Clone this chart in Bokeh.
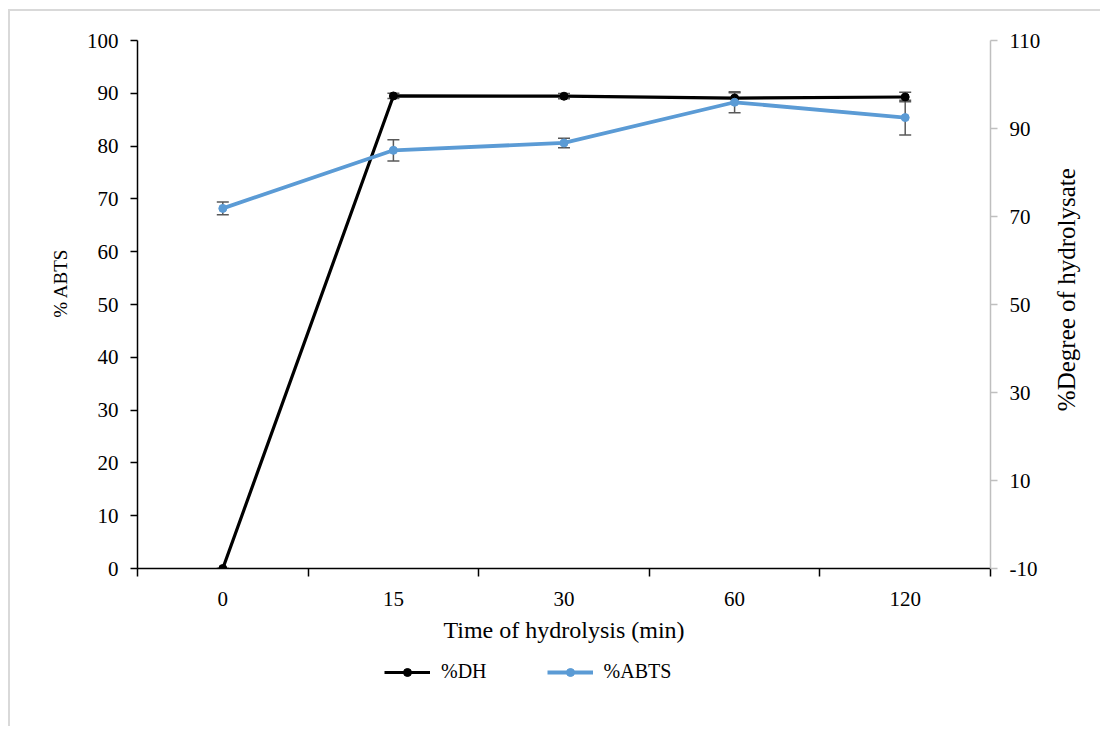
import math
from bokeh.plotting import figure
from bokeh.layouts import column, row
from bokeh.models import (Range1d, LinearAxis, FixedTicker, ColumnDataSource, Whisker,
                          TeeHead, Legend, LegendItem)
from bokeh.core.properties import value
from bokeh.embed import file_html
from bokeh.resources import INLINE

# ---- data ----
times = ["0", "15", "30", "60", "120"]
dh = [0.0, 89.5, 89.45, 89.1, 89.3]
dh_err = [0.0, 0.5, 0.5, 1.0, 0.9]
abts = [68.2, 79.2, 80.6, 88.3, 85.4]
abts_err = [1.2, 2.0, 0.9, 2.0, 3.3]
left_ticks = [0, 10, 20, 30, 40, 50, 60, 70, 80, 90, 100]
right_ticks = [-10, 10, 30, 50, 70, 90, 110]
series_names = ["%DH", "%ABTS"]
left_title = "% ABTS"
right_title = "%Degree of hydrolysate"
x_title = "Time of hydrolysis (min)"

FONT = "Liberation Serif"
BLUE = "#5b9bd5"

xpos = [i + 0.5 for i in range(len(times))]

src = ColumnDataSource(dict(
    x=xpos, dh=dh, abts=abts,
    dh_lo=[v - e for v, e in zip(dh, dh_err)], dh_hi=[v + e for v, e in zip(dh, dh_err)],
    ab_lo=[v - e for v, e in zip(abts, abts_err)], ab_hi=[v + e for v, e in zip(abts, abts_err)],
))

LT_W, RT_W = 70, 50
P_W, P_H = 970, 642
p = figure(width=P_W, height=P_H, output_backend="svg", toolbar_location=None,
           x_range=Range1d(0, len(times)), y_range=Range1d(0, 100),
           min_border_left=57, min_border_right=60, min_border_top=29, min_border_bottom=85)
p.extra_y_ranges = {"right": Range1d(-10, 110)}
p.xgrid.visible = False
p.ygrid.visible = False
p.outline_line_color = None
p.background_fill_color = "white"
p.border_fill_color = "white"

# x axis
xa = p.xaxis[0]
xa.ticker = FixedTicker(ticks=xpos, minor_ticks=list(range(len(times) + 1)))
xa.major_label_overrides = {x: t for x, t in zip(xpos, times)}
xa.major_tick_out = 0
xa.major_tick_in = 0
xa.minor_tick_out = 8
xa.minor_tick_in = 0
xa.minor_tick_line_color = "black"
xa.minor_tick_line_width = 1.5
xa.axis_line_color = "black"
xa.axis_line_width = 1.5
xa.axis_label = x_title
xa.axis_label_text_font = FONT
xa.axis_label_text_font_style = "normal"
xa.axis_label_text_font_size = "24px"
xa.axis_label_text_color = "black"
xa.major_label_text_font = FONT
xa.major_label_text_font_size = "21px"
xa.major_label_text_color = "black"
xa.major_label_standoff = 15
xa.axis_label_standoff = 8

# left axis (title drawn in a narrow strip to its left)
ya = p.yaxis[0]
ya.ticker = FixedTicker(ticks=left_ticks)
ya.minor_tick_line_color = None
ya.major_tick_out = 7
ya.major_tick_in = 0
ya.major_tick_line_width = 1.5
ya.axis_line_width = 1.5
ya.axis_line_color = "black"
ya.major_label_text_font = FONT
ya.major_label_text_font_size = "21px"
ya.major_label_text_color = "black"
ya.major_label_standoff = 12

# right axis (title drawn in a narrow strip to its right, reading bottom-to-top)
ra = LinearAxis(y_range_name="right", ticker=FixedTicker(ticks=right_ticks))
ra.major_label_overrides = {-10: "-10"}
ra.axis_line_color = "#bfbfbf"
ra.axis_line_width = 1.5
ra.major_tick_line_color = "#bfbfbf"
ra.major_tick_line_width = 1.5
ra.major_tick_out = 7
ra.major_tick_in = 0
ra.minor_tick_line_color = None
ra.major_label_text_font = FONT
ra.major_label_text_font_size = "21px"
ra.major_label_text_color = "black"
ra.major_label_standoff = 12
p.add_layout(ra, "right")

# lines
p.line("x", "dh", source=src, line_color="black", line_width=3.2)
p.scatter("x", "dh", source=src, size=8, fill_color="black", line_color="black")
p.line("x", "abts", source=src, line_color=BLUE, line_width=3.8)
p.scatter("x", "abts", source=src, size=8, fill_color=BLUE, line_color=BLUE)

for lo, hi in (("dh_lo", "dh_hi"), ("ab_lo", "ab_hi")):
    w = Whisker(source=src, base="x", lower=lo, upper=hi, line_color="#595959", line_width=1.5,
                upper_head=TeeHead(size=12, line_color="#595959", line_width=1.5),
                lower_head=TeeHead(size=12, line_color="#595959", line_width=1.5))
    p.add_layout(w)


def title_strip(width, text, cx, cy_from_top, size):
    f = figure(width=width, height=P_H, output_backend="svg", toolbar_location=None,
               x_range=Range1d(0, width), y_range=Range1d(0, P_H), min_border=0,
               x_axis_type=None, y_axis_type=None)
    f.grid.visible = False
    f.outline_line_color = None
    f.border_fill_color = "white"
    f.text(x=[cx], y=[P_H - cy_from_top], text=[text], angle=math.pi / 2,
           text_align="center", text_baseline="middle", text_color="black",
           text_font=value(FONT), text_font_size=size)
    return f


plt = title_strip(LT_W, left_title, 50, 295, "19px")
prt = title_strip(RT_W, right_title, 16, 303, "25px")

# legend strip (below the plot); legend renderers reuse the series data, kept out of view
L_H = 73
p2 = figure(width=LT_W + P_W + RT_W, height=L_H, output_backend="svg", toolbar_location=None,
            x_range=Range1d(100, 101), y_range=Range1d(1000, 1001), min_border=0,
            x_axis_type=None, y_axis_type=None)
p2.grid.visible = False
p2.outline_line_color = None
p2.border_fill_color = "white"
k1 = p2.line("x", "dh", source=src, line_color="black", line_width=3.2)
k1m = p2.scatter("x", "dh", source=src, size=8, fill_color="black", line_color="black")
k2 = p2.line("x", "abts", source=src, line_color=BLUE, line_width=3.8)
k2m = p2.scatter("x", "abts", source=src, size=8, fill_color=BLUE, line_color=BLUE)
legend = Legend(items=[LegendItem(label=series_names[0], renderers=[k1, k1m]),
                       LegendItem(label=series_names[1], renderers=[k2, k2m])],
                orientation="horizontal", location=(374, 43),
                label_text_font=FONT, label_text_font_size="20px", label_text_color="black",
                glyph_width=46, label_standoff=11, spacing=60, border_line_color=None,
                background_fill_alpha=0, margin=0, padding=4)
p2.add_layout(legend, "center")

layout = column(row(plt, p, prt, spacing=0), p2, spacing=0,
                styles={"border-top": "2px solid #d9d9d9", "border-left": "2px solid #d9d9d9",
                        "margin-left": "8px", "margin-top": "9px"})

open("out.html", "w").write(file_html(layout, INLINE))
